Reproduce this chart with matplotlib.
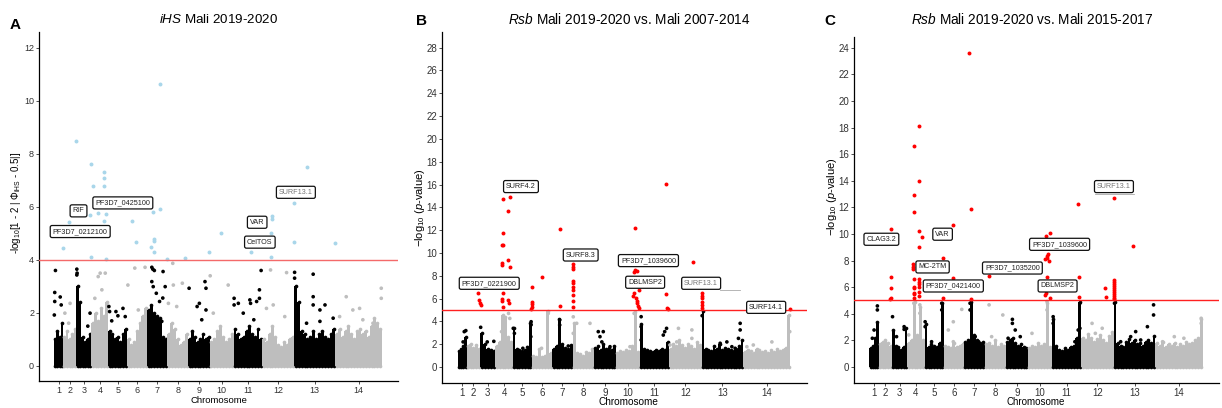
import matplotlib
matplotlib.use("Agg")
import matplotlib.pyplot as plt
import numpy as np

plt.rcParams['font.family'] = ['Liberation Sans', 'DejaVu Sans']
plt.rcParams['mathtext.fontset'] = 'custom'
plt.rcParams['mathtext.rm'] = 'Liberation Sans'
plt.rcParams['mathtext.it'] = 'Liberation Sans:italic'
plt.rcParams['mathtext.bf'] = 'Liberation Sans:bold'

# P. falciparum 3D7 chromosomes, lengths in Mb
chrom_names = [str(i) for i in range(1, 15)]
chrom_len = [0.641, 0.947, 1.068, 1.200, 1.344, 1.418, 1.445,
             1.473, 1.542, 1.688, 2.038, 2.271, 2.925, 3.292]

# ---------------- iHS, Mali 2019-2020 ----------------
# dense SNP mass per chromosome (score envelope, left to right)
ihs_profile = [
    [1.0, 1.3, 1.1, 1.6],
    [1.1, 1.3, 1.0, 1.2, 1.4],
    [3.0, 2.4, 1.1, 0.9, 1.0, 1.2],
    [1.6, 2.0, 1.7, 2.2, 1.9, 2.4],
    [1.3, 1.2, 1.0, 1.1, 0.9, 1.2, 1.4],
    [1.0, 0.8, 0.9, 1.3, 1.6, 1.9, 2.2],
    [2.1, 2.3, 2.0, 1.9, 1.8, 1.1, 1.0],
    [1.2, 1.6, 1.4, 1.0, 0.8, 0.9, 1.2],
    [1.0, 1.3, 1.1, 0.9, 1.0, 1.2, 1.0, 1.1],
    [0.9, 1.0, 1.3, 1.5, 1.1, 0.9, 1.0, 1.2],
    [1.4, 1.2, 1.0, 1.1, 1.3, 1.5, 1.2, 1.1, 1.4, 1.0],
    [1.0, 0.9, 1.2, 1.5, 1.1, 0.8, 0.7, 0.9, 0.8, 1.0, 1.1],
    [3.0, 2.4, 1.3, 1.2, 1.0, 1.1, 1.3, 1.0, 1.2, 1.3, 1.1, 1.0, 1.2, 1.4],
    [1.2, 1.4, 1.1, 1.3, 1.5, 1.2, 1.0, 1.3, 1.4, 1.2, 1.3, 1.1, 1.5, 1.8, 1.6, 1.4],
]
# isolated SNPs (genome position Mb, score)
ihs_other = [
    (0.05, 2.43), (0.05, 2.77), (0.02, 1.92), (0.44, 2.6), (0.51, 2.3), (0.10, 3.6),
    (0.77, 1.99), (1.14, 2.36), (1.04, 1.61),
    (1.62, 3.65), (1.64, 3.5), (1.62, 3.43), (2.56, 1.99), (2.40, 1.5),
    (3.14, 3.37), (3.28, 3.5), (3.64, 3.5), (2.90, 2.55), (3.40, 2.87),
    (3.90, 2.24), (3.95, 2.05), (4.40, 2.05), (4.54, 1.89), (4.90, 2.17), (5.06, 1.86), (4.10, 1.7),
    (5.25, 3.05), (5.74, 3.69), (6.47, 3.72), (5.99, 2.11),
    (6.95, 3.72), (7.02, 3.65), (7.13, 3.6), (7.75, 3.56), (6.95, 3.18), (7.05, 2.99),
    (7.27, 2.74), (7.90, 2.99), (7.73, 2.56), (7.50, 2.43), (7.66, 1.68),
    (8.48, 3.05), (9.12, 3.12), (8.72, 2.24), (8.13, 2.36), (8.44, 3.87),
    (9.60, 2.93), (10.17, 2.24), (10.33, 2.36), (10.73, 3.18), (10.80, 2.93), (10.80, 2.11), (10.50, 1.74),
    (11.10, 3.4), (12.38, 3.05), (11.32, 1.99),
    (12.80, 2.55), (12.80, 2.3), (13.10, 2.36), (13.92, 2.49), (13.97, 2.36), (14.40, 2.43),
    (14.60, 2.87), (14.72, 3.6), (14.60, 2.55), (14.20, 1.74), (13.45, 1.99),
    (15.39, 3.62), (15.58, 2.3), (15.10, 2.17), (16.53, 3.52), (16.40, 1.86),
    (17.10, 3.53), (17.10, 3.31), (18.42, 3.46), (18.42, 2.61), (18.42, 2.3),
    (18.90, 2.11), (19.26, 2.3), (18.90, 1.68), (19.84, 1.8), (17.95, 1.61),
    (20.77, 2.61), (21.24, 2.11), (21.72, 2.17), (23.26, 2.93), (23.26, 2.55),
    (22.67, 1.61), (21.95, 1.74), (20.30, 1.86),
]
# SNPs above the cutoff
ihs_hits = [
    (7.54, 10.62), (1.58, 8.50), (2.62, 7.61), (3.54, 7.33), (3.54, 7.08), (2.78, 6.77),
    (3.54, 6.77), (3.09, 5.76), (3.70, 5.74), (2.59, 5.69), (3.54, 5.45), (1.03, 5.43),
    (0.63, 4.45), (2.62, 4.10), (3.70, 4.04), (7.02, 5.81), (7.56, 5.92), (5.55, 5.47),
    (5.86, 4.67), (7.11, 4.78), (7.13, 4.70), (6.90, 4.48), (7.11, 4.28), (8.01, 4.05),
    (9.33, 4.09), (10.99, 4.28), (11.84, 5.03), (13.97, 4.29), (15.39, 4.10), (15.39, 5.02),
    (15.49, 5.66), (15.49, 5.53), (17.07, 6.14), (17.07, 4.69), (17.99, 7.52), (19.98, 4.65),
]
ihs_genes = [
    ("PF3D7_0212100", 1.86, 5.07), ("RIF", 1.74, 5.85), ("PF3D7_0425100", 4.89, 6.15),
    ("VAR", 14.44, 5.42), ("CelTOS", 14.63, 4.67), ("SURF13.1", 17.19, 6.55),
]

# ---------------- Rsb, 2019-2020 vs 2007-2014 ----------------
rsb1_profile = [
    [1.4, 1.6, 1.8, 2.6],
    [1.8, 2.0, 1.7, 1.9, 1.6],
    [3.0, 2.0, 1.6, 1.5, 1.4],
    [1.8, 2.2, 4.6, 4.4, 2.6, 2.2],
    [3.4, 1.6, 1.5, 1.4, 1.5, 1.6, 3.9],
    [1.0, 0.9, 1.6, 0.9, 1.0, 4.9, 1.2],
    [1.6, 1.8, 4.2, 2.0, 1.7, 1.6, 1.9],
    [3.9, 1.2, 1.1, 1.0, 1.3, 1.2, 1.6],
    [1.7, 1.8, 1.5, 2.0, 1.6, 1.7, 1.5, 1.8],
    [1.2, 1.4, 1.3, 1.5, 1.4, 1.8, 4.8, 1.3],
    [3.8, 1.6, 1.5, 1.4, 1.3, 1.5, 1.4, 1.6, 1.5, 2.2],
    [1.6, 2.0, 1.8, 2.4, 1.9, 1.7, 2.0, 1.8, 1.6, 2.2, 1.9],
    [4.9, 1.6, 1.5, 1.4, 1.8, 1.6, 2.0, 1.5, 1.7, 1.6, 1.5, 1.4, 1.6, 1.8, 2.4],
    [1.3, 1.5, 1.4, 1.2, 1.6, 1.5, 1.3, 1.4, 1.2, 1.5, 1.3, 1.6, 1.4, 1.5, 1.7, 4.6],
]
rsb1_other = [
    (0.47, 3.1), (0.58, 3.19), (0.39, 2.2),
    (1.62, 3.48), (2.08, 2.2), (2.54, 2.25),
    (3.08, 3.1), (3.57, 4.7), (3.66, 4.26), (3.30, 2.37),
    (3.90, 3.39), (3.98, 2.95), (4.57, 1.64), (4.90, 1.72), (5.13, 2.66), (5.15, 3.97), (5.15, 3.7),
    (5.88, 1.64), (6.35, 4.7),
    (7.15, 4.12), (7.15, 3.68), (7.28, 1.64), (7.75, 1.84),
    (8.34, 3.83), (9.27, 3.83), (8.10, 4.4), (8.10, 2.95),
    (9.85, 3.1), (10.20, 3.1), (10.10, 2.2), (10.67, 1.78), (9.97, 2.66),
    (12.36, 4.7), (12.07, 1.78),
    (12.85, 4.41), (12.85, 3.54), (12.85, 2.37), (14.40, 2.8), (14.50, 3.1), (14.63, 3.39),
    (15.46, 3.39), (16.40, 3.25), (15.34, 2.2), (16.40, 2.51), (14.87, 1.93),
    (17.12, 4.5), (18.38, 2.08), (18.85, 2.2), (19.20, 1.78), (19.43, 1.64),
    (19.78, 3.83), (19.78, 3.25), (19.66, 2.51),
    (20.25, 1.78), (22.00, 2.2), (23.25, 3.1), (20.70, 1.93),
]
rsb1_hits = [
    (1.44, 6.46), (1.51, 5.88), (1.54, 5.64), (1.61, 5.44),
    (3.17, 14.74), (3.67, 14.94), (3.55, 13.68), (3.17, 11.73), (3.13, 10.73), (3.20, 10.73),
    (3.55, 9.39), (3.08, 9.15), (3.08, 8.92), (3.69, 8.80), (3.15, 6.52), (3.10, 5.99),
    (3.12, 5.82), (3.55, 5.88), (3.20, 5.29), (3.57, 5.6),
    (5.19, 6.99), (5.19, 5.73), (5.19, 5.5), (5.19, 5.27), (5.17, 5.1),
    (5.89, 7.87), (7.15, 12.1), (7.15, 5.35),
    (8.10, 9.0), (8.10, 8.8), (8.10, 8.57), (8.10, 7.57), (8.10, 7.34), (8.10, 7.04),
    (8.10, 6.75), (8.10, 6.29), (8.10, 5.82), (8.10, 5.23),
    (12.40, 12.16), (12.42, 8.5), (12.59, 8.42), (12.36, 8.3), (12.68, 6.75), (12.36, 6.52),
    (12.30, 6.23), (12.50, 6.02), (12.55, 5.82), (12.55, 5.59), (12.64, 5.38), (12.68, 5.18),
    (14.60, 16.08), (14.60, 6.4), (14.65, 5.15), (14.76, 5.06),
    (16.47, 9.18),
    (17.12, 6.46), (17.12, 6.25), (17.12, 6.08), (17.12, 5.73), (17.12, 5.44), (17.12, 5.15),
    (23.29, 5.06),
]
rsb1_genes = [
    ("SURF4.2", 4.44, 15.82), ("PF3D7_0221900", 2.22, 7.34), ("SURF8.3", 8.62, 9.82),
    ("PF3D7_1039600", 13.36, 9.33), ("DBLMSP2", 13.13, 7.43), ("SURF13.1", 17.05, 7.34),
    ("SURF14.1", 21.6, 5.23),
]

# ---------------- Rsb, 2019-2020 vs 2015-2017 ----------------
rsb2_profile = [
    [1.4, 1.6, 2.2, 3.4],
    [1.7, 1.9, 2.0, 1.8, 1.6],
    [2.8, 1.6, 1.5, 1.3, 1.5, 2.9],
    [1.8, 2.0, 4.9, 2.4, 4.5, 2.0],
    [3.2, 1.5, 1.7, 1.6, 1.5, 1.8, 4.8],
    [1.6, 1.5, 1.4, 1.8, 1.5, 1.6, 1.7],
    [1.9, 2.0, 4.9, 2.4, 2.0, 1.8, 1.9],
    [1.7, 1.8, 1.6, 2.0, 1.5, 1.7, 1.6],
    [1.9, 2.0, 2.2, 1.8, 1.6, 1.7, 1.5, 1.4],
    [1.4, 1.6, 1.5, 1.8, 1.6, 1.7, 4.8, 1.5],
    [3.6, 1.6, 1.3, 1.2, 1.4, 1.3, 1.5, 1.6, 2.2, 4.9],
    [2.2, 2.0, 2.5, 2.2, 1.9, 2.1, 2.4, 2.0, 1.8, 2.3, 2.6],
    [4.9, 1.8, 1.6, 1.5, 1.9, 2.1, 1.8, 2.0, 1.7, 1.8, 1.6, 1.9, 2.0, 1.8, 2.3],
    [1.8, 1.6, 1.9, 1.5, 1.7, 1.6, 1.8, 1.5, 1.7, 1.6, 1.9, 1.7, 1.8, 2.0, 2.2, 3.6],
]
rsb2_other = [
    (0.56, 4.59), (0.56, 4.29), (0.33, 2.78), (0.21, 2.16),
    (1.62, 3.78), (1.90, 2.28), (2.43, 3.03), (2.43, 2.83),
    (3.11, 4.79), (3.53, 4.67), (3.53, 4.04), (2.75, 2.41),
    (3.90, 3.4), (3.90, 3.03), (5.06, 4.79), (5.06, 4.29), (4.35, 1.9),
    (6.46, 4.33), (5.87, 3.4), (5.87, 1.9), (5.52, 2.78),
    (7.04, 4.79), (7.04, 4.29), (7.40, 2.28), (7.64, 1.9),
    (8.37, 4.67), (9.33, 3.91), (8.55, 2.28),
    (10.00, 3.58), (10.00, 3.28), (10.20, 2.78), (10.55, 2.28), (9.70, 2.16),
    (12.42, 4.92), (12.42, 4.29), (11.37, 2.53),
    (12.85, 3.78), (12.85, 3.28), (14.72, 4.79), (14.72, 2.91), (14.60, 2.78), (14.37, 1.9),
    (15.57, 3.28), (16.28, 2.91), (15.80, 2.53),
    (17.14, 4.79), (19.87, 4.67), (19.87, 3.91), (19.44, 3.03), (18.62, 2.66),
    (18.27, 2.28), (18.97, 2.03), (17.57, 1.9),
    (23.20, 3.66), (23.20, 3.28), (21.99, 2.16), (20.50, 1.9), (21.32, 2.28),
]
rsb2_hits = [
    (6.99, 23.59), (3.50, 18.13), (3.11, 16.64), (3.48, 13.96), (3.11, 12.96), (3.11, 11.63),
    (7.11, 11.9), (5.82, 10.7), (1.54, 10.35), (3.48, 10.2), (3.65, 9.77), (3.48, 9.0),
    (5.12, 8.2), (3.04, 7.74), (3.08, 7.54), (3.08, 7.35), (8.39, 6.87), (1.54, 6.74),
    (3.11, 6.64), (3.48, 6.59), (3.48, 6.41), (3.48, 6.24), (3.48, 6.04), (3.48, 5.66),
    (5.87, 6.72), (1.54, 5.96), (1.54, 5.21), (1.42, 5.14), (3.11, 6.04), (3.11, 5.54),
    (3.11, 5.21), (3.48, 5.34), (5.12, 5.16), (7.09, 5.09), (3.11, 5.92), (3.11, 5.49),
    (12.65, 10.1), (12.37, 9.87), (12.50, 8.5), (12.45, 8.35), (12.40, 8.17), (12.55, 7.99),
    (12.30, 8.1), (12.42, 6.74), (12.37, 5.54), (12.60, 5.16), (12.30, 5.4),
    (14.62, 12.26), (14.67, 6.79), (14.69, 5.24),
    (16.49, 5.92), (16.53, 5.29),
    (17.12, 12.73), (17.13, 6.54), (17.13, 6.4), (17.13, 6.25), (17.13, 6.1), (17.13, 5.95),
    (17.13, 5.8), (17.13, 5.65), (17.13, 5.5), (17.13, 5.35), (17.13, 5.2), (17.13, 5.1),
    (18.43, 9.1),
]
rsb2_genes = [
    ("CLAG3.2", 0.84, 9.6), ("VAR", 5.12, 9.98), ("MC-2TM", 4.42, 7.52),
    ("PF3D7_0421400", 5.87, 6.09), ("PF3D7_1035200", 10.0, 7.44),
    ("PF3D7_1039600", 13.3, 9.22), ("DBLMSP2", 13.16, 6.09), ("SURF13.1", 17.1, 13.56),
]

chrom_end = np.cumsum(chrom_len)
chrom_start = chrom_end - np.array(chrom_len)
chrom_mid = chrom_start + np.array(chrom_len) / 2
dark, light = "black", "#bebebe"
dot = 7


def chrom_color(pos):
    idx = np.searchsorted(chrom_end, pos)
    return dark if idx % 2 == 0 else light


def manhattan(ax, profile, other, hits, genes, cut, hit_col, line_col,
              ylim, yticks, tick_fs):
    for i, heights in enumerate(profile):
        col = dark if i % 2 == 0 else light
        n = len(heights)
        w = chrom_len[i] / n
        xs = chrom_start[i] + w * (np.arange(n) + 0.5)
        ax.bar(xs, heights, width=w, color=col, linewidth=0, zorder=2)
        ax.scatter(xs, heights, s=dot, color=col, linewidths=0, zorder=2)
        ax.scatter(xs, np.zeros(n), s=dot, color=col, linewidths=0, zorder=2)

    pos = [p for p, v in other]
    val = [v for p, v in other]
    ax.scatter(pos, val, s=dot, c=[chrom_color(p) for p in pos], linewidths=0, zorder=3)

    pos = [p for p, v in hits]
    val = [v for p, v in hits]
    ax.scatter(pos, val, s=dot + 1, color=hit_col, linewidths=0, zorder=4)

    ax.axhline(cut, color=line_col, lw=1.0, zorder=5)

    for name, x, y in genes:
        tc = "#777777" if name == "SURF13.1" else "#222222"
        ax.text(x, y, name, fontsize=5.2, color=tc, ha="center", va="center", zorder=6,
                bbox=dict(boxstyle="round,pad=0.35,rounding_size=0.25",
                          fc="white", ec="#111111", lw=0.9))

    ax.set_xlim(-1.07, 24.45)
    ax.set_ylim(*ylim)
    ax.set_xticks(chrom_mid)
    ax.set_xticklabels(chrom_names)
    ax.set_yticks(yticks)
    for side in ["top", "right"]:
        ax.spines[side].set_visible(False)
    for side in ["left", "bottom"]:
        ax.spines[side].set_linewidth(0.9)
    ax.tick_params(axis="both", length=2.5, width=0.6, color="#333333",
                   labelcolor="#333333", labelsize=tick_fs, pad=1.0)


fig = plt.figure(figsize=(12.22, 4.08), dpi=100)

ax_a = fig.add_axes([0.0319, 0.0662, 0.2938, 0.8554])
manhattan(ax_a, ihs_profile, ihs_other, ihs_hits, ihs_genes, 4.0,
          "#a9d6ea", "#f46a6a", (-0.57, 12.6), range(0, 13, 2), 6.5)

ax_b = fig.add_axes([0.3619, 0.0605, 0.2984, 0.8610])
manhattan(ax_b, rsb1_profile, rsb1_other, rsb1_hits, rsb1_genes, 5.0,
          "#ff0000", "#ff2020", (-1.43, 29.37), range(0, 29, 2), 7.0)
ax_b.plot([18.4, 19.8], [6.75, 6.75], color="#aaaaaa", lw=0.6, zorder=5)

ax_c = fig.add_axes([0.6989, 0.0620, 0.2987, 0.8466])
manhattan(ax_c, rsb2_profile, rsb2_other, rsb2_hits, rsb2_genes, 5.0,
          "#ff0000", "#ff2020", (-1.18, 24.78), range(0, 25, 2), 7.0)
ax_c.plot([15.8, 18.5], [13.0, 13.0], color="#aaaaaa", lw=0.6, zorder=5)

# titles, panel letters, axis labels
fig.text(0.1784, 0.9527, r"$\mathit{iHS}$ Mali 2019-2020", fontsize=9.6,
         ha="center", va="center")
fig.text(0.5146, 0.951, r"$\mathit{Rsb}$ Mali 2019-2020 vs. Mali 2007-2014", fontsize=9.8,
         ha="center", va="center")
fig.text(0.8443, 0.951, r"$\mathit{Rsb}$ Mali 2019-2020 vs. Mali 2015-2017", fontsize=9.8,
         ha="center", va="center")

for letter, x, y in [("A", 0.0123, 0.938), ("B", 0.3453, 0.9485), ("C", 0.6792, 0.9485)]:
    fig.text(x, y, letter, fontsize=11, fontweight="bold", ha="center", va="center")

fig.text(0.0131, 0.502, r"-log$_{10}$[1 - 2 | $\Phi_{\mathrm{iHS}}$ - 0.5|]", fontsize=7,
         rotation=90, ha="center", va="center")
fig.text(0.3437, 0.491, r"$-$log$_{10}$ ($\mathit{p}$-value)", fontsize=8,
         rotation=90, ha="center", va="center")
fig.text(0.6808, 0.517, r"$-$log$_{10}$ ($\mathit{p}$-value)", fontsize=8,
         rotation=90, ha="center", va="center")

fig.text(0.1792, 0.018, "Chromosome", fontsize=6.8, ha="center", va="center")
fig.text(0.5141, 0.014, "Chromosome", fontsize=7.2, ha="center", va="center")
fig.text(0.8478, 0.014, "Chromosome", fontsize=7.0, ha="center", va="center")

fig.savefig("out.png", dpi=100, facecolor="white")
